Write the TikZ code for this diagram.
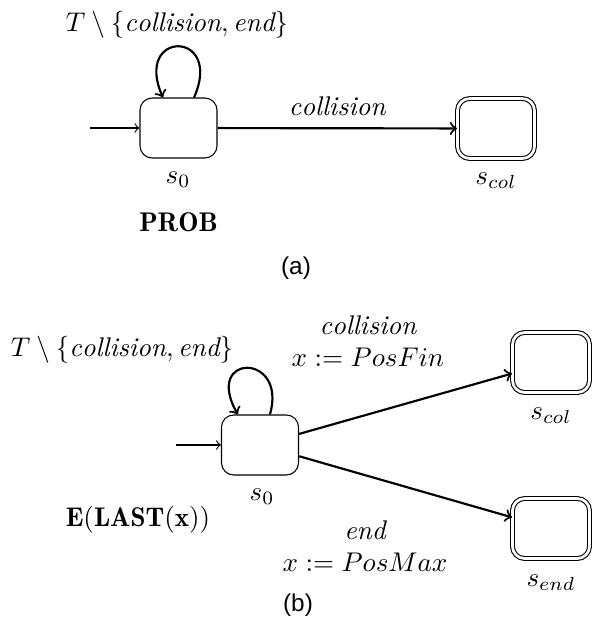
\documentclass[tikz,border=0pt]{standalone}
\usepackage{fontspec}
\newfontfamily\capfont{Liberation Sans}
\begin{document}
\begin{tikzpicture}[x=0.37pt,y=-0.37pt,
  state/.style={draw,rounded corners=4.5pt,minimum width=28.5pt,minimum height=22.2pt,inner sep=0pt,line width=0.4pt},
  final/.style={state,double,double distance=1pt},
  trans/.style={->,thick},
  init/.style={->,line width=0.4pt},
  captext/.style={font=\capfont\small}]
\useasboundingbox (0,0) rectangle (592,629);
% ---------- (a) ----------
\node[state] (a0) at (178.5,128) {};
\node[final] (acol) at (496,128.5) {};
\coordinate (ainit) at (90,128);
\draw[init] (ainit) -- (a0);
\draw[trans] (a0.63) .. controls +(30,-68) and +(-30,-68) .. (a0.117);
\node (aloop) at (177,25) {$T \setminus \{\mathit{collision}, \mathit{end}\}$};
\draw[trans] (a0) -- node[above,yshift=1pt] (acl) {$\mathit{collision}$} (acol);
\node (as0) at (178,180) {$s_0$};
\node (ascol) at (496,181) {$s_{col}$};
\node (aprob) at (178.5,222) {$\mathbf{PROB}$};
\node[captext] (acap) at (296,268) {(a)};
% ---------- (b) ----------
\node[state] (b0) at (260,445) {};
\node[final] (bcol) at (551,362.5) {};
\node[final] (bend) at (551,528.5) {};
\coordinate (binit) at (176,445);
\draw[init] (binit) -- (b0);
\draw[trans] (b0.72) .. controls +(18,-62) and +(-35,-62) .. (b0.126);
\node (bloop) at (122,350) {$T \setminus \{\mathit{collision}, \mathit{end}\}$};
\draw[trans] (b0) -- (bcol);
\draw[trans] (b0) -- (bend);
\node[align=center] (bcl) at (368,341) {$\mathit{collision}$\\$x := PosFin$};
\node[align=center] (bel) at (365,546) {$\mathit{end}$\\$x := PosMax$};
\node (bs0) at (262,497) {$s_0$};
\node (bscol) at (551,416) {$s_{col}$};
\node (bsend) at (551,583) {$s_{end}$};
\node (blast) at (138,520) {$\mathbf{E}(\mathbf{LAST}(\mathbf{x}))$};
\node[captext] (bcap) at (298,605) {(b)};
\end{tikzpicture}
\end{document}
